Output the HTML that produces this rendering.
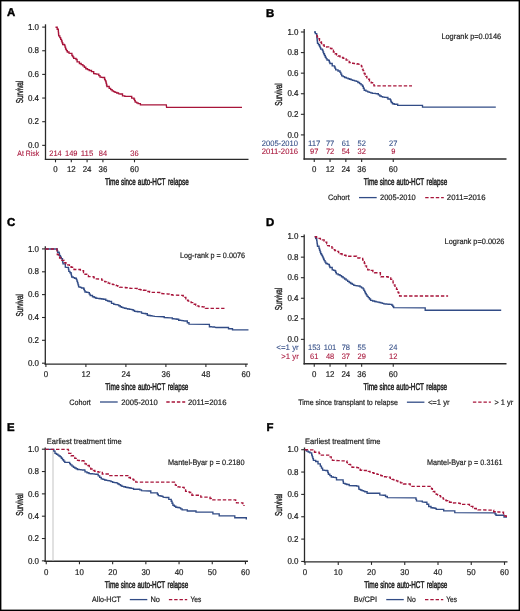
<!DOCTYPE html>
<html><head><meta charset="utf-8"><style>
html,body{margin:0;padding:0;background:#fff;}
svg{display:block;will-change:transform;}
text{font-family:"Liberation Sans",sans-serif;text-rendering:geometricPrecision;}
</style></head><body>
<svg width="520" height="611" viewBox="0 0 520 611">
<rect x="0" y="0" width="520" height="611" fill="#fff"/>
<text x="7.00" y="16.30" font-size="11.4" fill="#000" stroke="#000" stroke-width="0.45" font-weight="bold">A</text>
<line x1="45.50" y1="24.30" x2="45.50" y2="159.95" stroke="#2a2a2a" stroke-width="1.3"/>
<line x1="44.85" y1="159.30" x2="248.50" y2="159.30" stroke="#2a2a2a" stroke-width="1.3"/>
<line x1="42.20" y1="27.10" x2="45.50" y2="27.10" stroke="#2a2a2a" stroke-width="1.1"/>
<text x="39.00" y="29.77" font-size="8.6" fill="#222" stroke="#222" stroke-width="0.2" text-anchor="end" textLength="11.12" lengthAdjust="spacingAndGlyphs">1.0</text>
<line x1="42.20" y1="50.75" x2="45.50" y2="50.75" stroke="#2a2a2a" stroke-width="1.1"/>
<text x="39.00" y="53.42" font-size="8.6" fill="#222" stroke="#222" stroke-width="0.2" text-anchor="end" textLength="11.12" lengthAdjust="spacingAndGlyphs">0.8</text>
<line x1="42.20" y1="74.40" x2="45.50" y2="74.40" stroke="#2a2a2a" stroke-width="1.1"/>
<text x="39.00" y="77.07" font-size="8.6" fill="#222" stroke="#222" stroke-width="0.2" text-anchor="end" textLength="11.12" lengthAdjust="spacingAndGlyphs">0.6</text>
<line x1="42.20" y1="98.05" x2="45.50" y2="98.05" stroke="#2a2a2a" stroke-width="1.1"/>
<text x="39.00" y="100.72" font-size="8.6" fill="#222" stroke="#222" stroke-width="0.2" text-anchor="end" textLength="11.12" lengthAdjust="spacingAndGlyphs">0.4</text>
<line x1="42.20" y1="121.70" x2="45.50" y2="121.70" stroke="#2a2a2a" stroke-width="1.1"/>
<text x="39.00" y="124.37" font-size="8.6" fill="#222" stroke="#222" stroke-width="0.2" text-anchor="end" textLength="11.12" lengthAdjust="spacingAndGlyphs">0.2</text>
<line x1="42.20" y1="145.35" x2="45.50" y2="145.35" stroke="#2a2a2a" stroke-width="1.1"/>
<text x="39.00" y="148.02" font-size="8.6" fill="#222" stroke="#222" stroke-width="0.2" text-anchor="end" textLength="11.12" lengthAdjust="spacingAndGlyphs">0.0</text>
<line x1="55.50" y1="159.30" x2="55.50" y2="162.30" stroke="#2a2a2a" stroke-width="1.1"/>
<text x="55.50" y="171.88" font-size="8.4" fill="#222" stroke="#222" stroke-width="0.2" text-anchor="middle" textLength="4.39" lengthAdjust="spacingAndGlyphs">0</text>
<line x1="71.30" y1="159.30" x2="71.30" y2="162.30" stroke="#2a2a2a" stroke-width="1.1"/>
<text x="71.30" y="171.88" font-size="8.4" fill="#222" stroke="#222" stroke-width="0.2" text-anchor="middle" textLength="8.78" lengthAdjust="spacingAndGlyphs">12</text>
<line x1="87.10" y1="159.30" x2="87.10" y2="162.30" stroke="#2a2a2a" stroke-width="1.1"/>
<text x="87.10" y="171.88" font-size="8.4" fill="#222" stroke="#222" stroke-width="0.2" text-anchor="middle" textLength="8.78" lengthAdjust="spacingAndGlyphs">24</text>
<line x1="102.90" y1="159.30" x2="102.90" y2="162.30" stroke="#2a2a2a" stroke-width="1.1"/>
<text x="102.90" y="171.88" font-size="8.4" fill="#222" stroke="#222" stroke-width="0.2" text-anchor="middle" textLength="8.78" lengthAdjust="spacingAndGlyphs">36</text>
<line x1="134.50" y1="159.30" x2="134.50" y2="162.30" stroke="#2a2a2a" stroke-width="1.1"/>
<text x="134.50" y="171.88" font-size="8.4" fill="#222" stroke="#222" stroke-width="0.2" text-anchor="middle" textLength="8.78" lengthAdjust="spacingAndGlyphs">60</text>
<text x="0" y="0" font-size="10" fill="#222" stroke="#222" stroke-width="0.4" text-anchor="middle" textLength="22.4" lengthAdjust="spacingAndGlyphs" transform="translate(22.80,92.00) rotate(-90)">Survival</text>
<text x="17.30" y="156.34" font-size="7.9" fill="#a8143a" stroke="#a8143a" stroke-width="0.08" textLength="21.90" lengthAdjust="spacingAndGlyphs">At Risk</text>
<text x="55.50" y="156.30" font-size="7.9" fill="#a8143a" stroke="#a8143a" stroke-width="0.08" text-anchor="middle" textLength="12.51" lengthAdjust="spacingAndGlyphs">214</text>
<text x="71.30" y="156.30" font-size="7.9" fill="#a8143a" stroke="#a8143a" stroke-width="0.08" text-anchor="middle" textLength="12.51" lengthAdjust="spacingAndGlyphs">149</text>
<text x="87.10" y="156.30" font-size="7.9" fill="#a8143a" stroke="#a8143a" stroke-width="0.08" text-anchor="middle" textLength="12.51" lengthAdjust="spacingAndGlyphs">115</text>
<text x="102.90" y="156.30" font-size="7.9" fill="#a8143a" stroke="#a8143a" stroke-width="0.08" text-anchor="middle" textLength="8.34" lengthAdjust="spacingAndGlyphs">84</text>
<text x="134.50" y="156.30" font-size="7.9" fill="#a8143a" stroke="#a8143a" stroke-width="0.08" text-anchor="middle" textLength="8.34" lengthAdjust="spacingAndGlyphs">36</text>
<text x="104.90" y="185.30" font-size="9.8" fill="#222" stroke="#222" stroke-width="0.5" textLength="14.35" lengthAdjust="spacingAndGlyphs">Time</text>
<text x="121.07" y="185.30" font-size="9.8" fill="#222" stroke="#222" stroke-width="0.5" textLength="14.55" lengthAdjust="spacingAndGlyphs">since</text>
<text x="137.86" y="185.30" font-size="9.8" fill="#222" stroke="#222" stroke-width="0.5" textLength="27.59" lengthAdjust="spacingAndGlyphs">auto-HCT</text>
<text x="167.88" y="185.30" font-size="9.8" fill="#222" stroke="#222" stroke-width="0.5" textLength="20.82" lengthAdjust="spacingAndGlyphs">relapse</text>
<path d="M55.50,27.20 L57.20,27.20 L57.20,29.20 L58.30,29.20 L58.30,31.20 L58.43,31.20 L58.43,32.73 L58.57,32.73 L58.57,34.27 L58.70,34.27 L58.70,35.80 L59.80,35.80 L59.80,37.60 L60.65,37.60 L60.65,39.30 L61.50,39.30 L61.50,41.00 L62.10,41.00 L62.10,42.75 L62.70,42.75 L62.70,44.50 L64.40,44.50 L64.40,45.10 L65.00,45.10 L65.00,47.10 L65.60,47.10 L65.60,49.10 L66.45,49.10 L66.45,50.55 L67.30,50.55 L67.30,52.00 L69.00,52.00 L69.00,53.20 L70.80,53.40 L71.90,53.40 L71.90,55.50 L72.80,55.50 L72.80,56.90 L73.70,56.90 L73.70,58.30 L76.00,58.30 L76.00,59.50 L77.10,59.50 L77.10,61.80 L79.40,61.80 L79.40,63.50 L81.15,63.50 L81.15,64.65 L82.90,64.65 L82.90,65.80 L84.35,65.80 L84.35,67.25 L85.80,67.25 L85.80,68.70 L87.50,68.70 L87.50,69.60 L89.20,69.60 L89.20,70.50 L91.50,70.50 L91.50,71.60 L93.70,71.60 L93.70,73.60 L95.10,73.60 L95.10,73.85 L96.50,73.85 L96.50,74.10 L98.80,74.10 L98.80,75.60 L100.00,75.60 L100.00,77.10 L101.45,77.10 L101.45,77.30 L102.90,77.30 L102.90,77.50 L104.60,77.50 L104.60,79.40 L105.20,79.40 L105.20,80.65 L105.80,80.65 L105.80,81.90 L106.17,81.90 L106.17,83.43 L106.53,83.43 L106.53,84.97 L106.90,84.97 L106.90,86.50 L109.20,86.50 L109.20,88.30 L110.65,88.30 L110.65,89.60 L112.10,89.60 L112.10,90.90 L113.55,90.90 L113.55,91.60 L115.00,91.60 L115.00,92.30 L116.75,92.30 L116.75,93.00 L118.50,93.00 L118.50,93.70 L120.20,94.00 L122.50,94.00 L122.50,95.80 L124.80,95.80 L124.80,96.30 L130.00,96.30 L131.70,96.30 L131.70,98.10 L134.00,98.10 L134.00,99.20 L134.60,99.20 L134.60,100.65 L135.20,100.65 L135.20,102.10 L136.65,102.10 L136.65,102.85 L138.10,102.85 L138.10,103.60 L140.40,103.60 L140.40,104.90 L166.30,104.90 L166.60,107.40 L242.00,107.40" fill="none" stroke="#a8143a" stroke-width="1.35" stroke-linejoin="miter"/>
<text x="266.00" y="16.50" font-size="11.4" fill="#000" stroke="#000" stroke-width="0.45" font-weight="bold">B</text>
<line x1="304.20" y1="29.00" x2="304.20" y2="159.65" stroke="#2a2a2a" stroke-width="1.3"/>
<line x1="303.55" y1="159.00" x2="506.50" y2="159.00" stroke="#2a2a2a" stroke-width="1.3"/>
<line x1="300.90" y1="32.00" x2="304.20" y2="32.00" stroke="#2a2a2a" stroke-width="1.1"/>
<text x="298.50" y="34.67" font-size="8.6" fill="#222" stroke="#222" stroke-width="0.2" text-anchor="end" textLength="11.12" lengthAdjust="spacingAndGlyphs">1.0</text>
<line x1="300.90" y1="52.58" x2="304.20" y2="52.58" stroke="#2a2a2a" stroke-width="1.1"/>
<text x="298.50" y="55.25" font-size="8.6" fill="#222" stroke="#222" stroke-width="0.2" text-anchor="end" textLength="11.12" lengthAdjust="spacingAndGlyphs">0.8</text>
<line x1="300.90" y1="73.16" x2="304.20" y2="73.16" stroke="#2a2a2a" stroke-width="1.1"/>
<text x="298.50" y="75.83" font-size="8.6" fill="#222" stroke="#222" stroke-width="0.2" text-anchor="end" textLength="11.12" lengthAdjust="spacingAndGlyphs">0.6</text>
<line x1="300.90" y1="93.74" x2="304.20" y2="93.74" stroke="#2a2a2a" stroke-width="1.1"/>
<text x="298.50" y="96.41" font-size="8.6" fill="#222" stroke="#222" stroke-width="0.2" text-anchor="end" textLength="11.12" lengthAdjust="spacingAndGlyphs">0.4</text>
<line x1="300.90" y1="114.32" x2="304.20" y2="114.32" stroke="#2a2a2a" stroke-width="1.1"/>
<text x="298.50" y="116.99" font-size="8.6" fill="#222" stroke="#222" stroke-width="0.2" text-anchor="end" textLength="11.12" lengthAdjust="spacingAndGlyphs">0.2</text>
<line x1="300.90" y1="134.90" x2="304.20" y2="134.90" stroke="#2a2a2a" stroke-width="1.1"/>
<text x="298.50" y="137.57" font-size="8.6" fill="#222" stroke="#222" stroke-width="0.2" text-anchor="end" textLength="11.12" lengthAdjust="spacingAndGlyphs">0.0</text>
<line x1="314.25" y1="159.00" x2="314.25" y2="162.00" stroke="#2a2a2a" stroke-width="1.1"/>
<text x="314.25" y="171.88" font-size="8.4" fill="#222" stroke="#222" stroke-width="0.2" text-anchor="middle" textLength="4.39" lengthAdjust="spacingAndGlyphs">0</text>
<line x1="330.05" y1="159.00" x2="330.05" y2="162.00" stroke="#2a2a2a" stroke-width="1.1"/>
<text x="330.05" y="171.88" font-size="8.4" fill="#222" stroke="#222" stroke-width="0.2" text-anchor="middle" textLength="8.78" lengthAdjust="spacingAndGlyphs">12</text>
<line x1="345.85" y1="159.00" x2="345.85" y2="162.00" stroke="#2a2a2a" stroke-width="1.1"/>
<text x="345.85" y="171.88" font-size="8.4" fill="#222" stroke="#222" stroke-width="0.2" text-anchor="middle" textLength="8.78" lengthAdjust="spacingAndGlyphs">24</text>
<line x1="361.65" y1="159.00" x2="361.65" y2="162.00" stroke="#2a2a2a" stroke-width="1.1"/>
<text x="361.65" y="171.88" font-size="8.4" fill="#222" stroke="#222" stroke-width="0.2" text-anchor="middle" textLength="8.78" lengthAdjust="spacingAndGlyphs">36</text>
<line x1="393.25" y1="159.00" x2="393.25" y2="162.00" stroke="#2a2a2a" stroke-width="1.1"/>
<text x="393.25" y="171.88" font-size="8.4" fill="#222" stroke="#222" stroke-width="0.2" text-anchor="middle" textLength="8.78" lengthAdjust="spacingAndGlyphs">60</text>
<text x="0" y="0" font-size="10" fill="#222" stroke="#222" stroke-width="0.4" text-anchor="middle" textLength="22.4" lengthAdjust="spacingAndGlyphs" transform="translate(281.60,94.50) rotate(-90)">Survival</text>
<text x="441.40" y="38.54" font-size="7.9" fill="#222" stroke="#222" stroke-width="0.2" textLength="59.80" lengthAdjust="spacingAndGlyphs">Logrank p=0.0146</text>
<text x="261.75" y="145.84" font-size="7.9" fill="#324c86" stroke="#324c86" stroke-width="0.08" textLength="36.25" lengthAdjust="spacingAndGlyphs">2005-2010</text>
<text x="261.75" y="154.14" font-size="7.9" fill="#a8143a" stroke="#a8143a" stroke-width="0.08" textLength="36.25" lengthAdjust="spacingAndGlyphs">2011-2016</text>
<text x="314.25" y="145.80" font-size="7.9" fill="#324c86" stroke="#324c86" stroke-width="0.08" text-anchor="middle" textLength="12.51" lengthAdjust="spacingAndGlyphs">117</text>
<text x="330.05" y="145.80" font-size="7.9" fill="#324c86" stroke="#324c86" stroke-width="0.08" text-anchor="middle" textLength="8.34" lengthAdjust="spacingAndGlyphs">77</text>
<text x="345.85" y="145.80" font-size="7.9" fill="#324c86" stroke="#324c86" stroke-width="0.08" text-anchor="middle" textLength="8.34" lengthAdjust="spacingAndGlyphs">61</text>
<text x="361.65" y="145.80" font-size="7.9" fill="#324c86" stroke="#324c86" stroke-width="0.08" text-anchor="middle" textLength="8.34" lengthAdjust="spacingAndGlyphs">52</text>
<text x="393.25" y="145.80" font-size="7.9" fill="#324c86" stroke="#324c86" stroke-width="0.08" text-anchor="middle" textLength="8.34" lengthAdjust="spacingAndGlyphs">27</text>
<text x="314.25" y="154.10" font-size="7.9" fill="#a8143a" stroke="#a8143a" stroke-width="0.08" text-anchor="middle" textLength="8.34" lengthAdjust="spacingAndGlyphs">97</text>
<text x="330.05" y="154.10" font-size="7.9" fill="#a8143a" stroke="#a8143a" stroke-width="0.08" text-anchor="middle" textLength="8.34" lengthAdjust="spacingAndGlyphs">72</text>
<text x="345.85" y="154.10" font-size="7.9" fill="#a8143a" stroke="#a8143a" stroke-width="0.08" text-anchor="middle" textLength="8.34" lengthAdjust="spacingAndGlyphs">54</text>
<text x="361.65" y="154.10" font-size="7.9" fill="#a8143a" stroke="#a8143a" stroke-width="0.08" text-anchor="middle" textLength="8.34" lengthAdjust="spacingAndGlyphs">32</text>
<text x="393.25" y="154.10" font-size="7.9" fill="#a8143a" stroke="#a8143a" stroke-width="0.08" text-anchor="middle" textLength="4.17" lengthAdjust="spacingAndGlyphs">9</text>
<text x="363.70" y="185.30" font-size="9.8" fill="#222" stroke="#222" stroke-width="0.5" textLength="14.32" lengthAdjust="spacingAndGlyphs">Time</text>
<text x="379.84" y="185.30" font-size="9.8" fill="#222" stroke="#222" stroke-width="0.5" textLength="14.52" lengthAdjust="spacingAndGlyphs">since</text>
<text x="396.58" y="185.30" font-size="9.8" fill="#222" stroke="#222" stroke-width="0.5" textLength="27.53" lengthAdjust="spacingAndGlyphs">auto-HCT</text>
<text x="426.53" y="185.30" font-size="9.8" fill="#222" stroke="#222" stroke-width="0.5" textLength="20.77" lengthAdjust="spacingAndGlyphs">relapse</text>
<text x="328.00" y="200.34" font-size="7.9" fill="#222" stroke="#222" stroke-width="0.2" textLength="21.80" lengthAdjust="spacingAndGlyphs">Cohort</text>
<line x1="359.00" y1="197.60" x2="376.70" y2="197.60" stroke="#324c86" stroke-width="1.3"/>
<text x="380.00" y="200.34" font-size="7.9" fill="#222" stroke="#222" stroke-width="0.2" textLength="35.80" lengthAdjust="spacingAndGlyphs">2005-2010</text>
<line x1="425.20" y1="197.60" x2="443.80" y2="197.60" stroke="#a8143a" stroke-width="1.3" stroke-dasharray="3.4,1.9"/>
<text x="446.80" y="200.34" font-size="7.9" fill="#222" stroke="#222" stroke-width="0.2" textLength="38.70" lengthAdjust="spacingAndGlyphs">2011=2016</text>
<path d="M314.00,32.00 L315.35,32.00 L315.35,33.60 L316.70,33.60 L316.70,35.20 L317.00,38.70 L317.17,38.70 L317.17,40.23 L317.33,40.23 L317.33,41.77 L317.50,41.77 L317.50,43.30 L318.50,43.30 L318.50,44.75 L319.50,44.75 L319.50,46.20 L320.10,46.20 L320.10,47.65 L320.70,47.65 L320.70,49.10 L322.40,49.10 L322.40,50.20 L323.00,50.20 L323.00,51.95 L323.60,51.95 L323.60,53.70 L324.45,53.70 L324.45,55.45 L325.30,55.45 L325.30,57.20 L326.15,57.20 L326.15,58.60 L327.00,58.60 L327.00,60.00 L328.80,60.00 L328.80,60.60 L329.35,60.60 L329.35,62.05 L329.90,62.05 L329.90,63.50 L332.20,63.50 L332.20,65.80 L334.50,65.80 L334.50,67.00 L335.10,67.00 L335.10,68.40 L335.70,68.40 L335.70,69.80 L338.00,69.80 L338.00,71.00 L340.00,71.00 L340.00,72.30 L340.85,72.30 L340.85,74.05 L341.70,74.05 L341.70,75.80 L343.15,75.80 L343.15,76.65 L344.60,76.65 L344.60,77.50 L346.35,77.50 L346.35,78.10 L348.10,78.10 L348.10,78.70 L349.63,78.70 L349.63,79.27 L351.17,79.27 L351.17,79.83 L352.70,79.83 L352.70,80.40 L354.45,80.40 L354.45,80.85 L356.20,80.85 L356.20,81.30 L357.90,81.30 L357.90,82.45 L359.60,82.45 L359.60,83.60 L361.05,83.60 L361.05,84.90 L362.50,84.90 L362.50,86.20 L363.35,86.20 L363.35,88.20 L364.20,88.20 L364.20,90.20 L365.95,90.20 L365.95,91.05 L367.70,91.05 L367.70,91.90 L369.23,91.90 L369.23,92.37 L370.77,92.37 L370.77,92.83 L372.30,92.83 L372.30,93.30 L373.83,93.30 L373.83,93.43 L375.37,93.43 L375.37,93.57 L376.90,93.57 L376.90,93.70 L378.35,93.70 L378.35,94.85 L379.80,94.85 L379.80,96.00 L381.25,96.00 L381.25,96.55 L382.70,96.55 L382.70,97.10 L384.70,97.10 L384.70,97.30 L386.70,97.30 L386.70,97.50 L387.90,97.50 L387.90,99.00 L390.20,99.00 L390.20,99.60 L390.75,99.60 L390.75,101.05 L391.30,101.05 L391.30,102.50 L392.50,102.50 L392.50,103.70 L394.20,103.70 L394.20,104.20 L396.50,104.20 L397.70,104.20 L397.70,105.40 L421.90,105.40 L422.50,105.40 L422.50,107.10 L495.80,107.10" fill="none" stroke="#324c86" stroke-width="1.35" stroke-linejoin="miter"/>
<path d="M316.30,35.50 L317.20,35.50 L317.20,37.00 L318.35,37.00 L318.35,38.75 L319.50,38.75 L319.50,40.50 L320.47,40.50 L320.47,42.00 L321.43,42.00 L321.43,43.50 L322.40,43.50 L322.40,45.00 L324.20,45.00 L324.20,47.10 L328.20,46.90 L330.50,46.90 L330.50,48.50 L331.95,48.50 L331.95,50.25 L333.40,50.25 L333.40,52.00 L335.10,52.00 L335.10,53.70 L336.55,53.70 L336.55,54.85 L338.00,54.85 L338.00,56.00 L340.00,56.00 L340.00,56.70 L341.53,56.70 L341.53,57.47 L343.07,57.47 L343.07,58.23 L344.60,58.23 L344.60,59.00 L346.13,59.00 L346.13,60.17 L347.67,60.17 L347.67,61.33 L349.20,61.33 L349.20,62.50 L350.95,62.50 L350.95,62.90 L352.70,62.90 L352.70,63.30 L354.15,63.30 L354.15,63.52 L355.60,63.52 L355.60,63.75 L357.05,63.75 L357.05,63.98 L358.50,63.98 L358.50,64.20 L360.80,64.50 L361.35,64.50 L361.35,66.10 L361.90,66.10 L361.90,67.70 L362.47,67.70 L362.47,69.15 L363.05,69.15 L363.05,70.60 L363.62,70.60 L363.62,72.05 L364.20,72.05 L364.20,73.50 L365.07,73.50 L365.07,74.92 L365.95,74.92 L365.95,76.35 L366.82,76.35 L366.82,77.78 L367.70,77.78 L367.70,79.20 L369.45,79.20 L369.45,80.95 L371.20,80.95 L371.20,82.70 L373.50,82.70 L373.50,83.30 L373.75,83.30 L373.75,84.60 L374.00,84.60 L374.00,85.90 L412.00,85.90" fill="none" stroke="#a8143a" stroke-width="1.35" stroke-linejoin="miter" stroke-dasharray="3.4,1.9"/>
<text x="7.00" y="225.75" font-size="11.4" fill="#000" stroke="#000" stroke-width="0.45" font-weight="bold">C</text>
<line x1="45.30" y1="246.20" x2="45.30" y2="364.75" stroke="#2a2a2a" stroke-width="1.3"/>
<line x1="44.65" y1="364.10" x2="247.80" y2="364.10" stroke="#2a2a2a" stroke-width="1.3"/>
<line x1="42.00" y1="248.90" x2="45.30" y2="248.90" stroke="#2a2a2a" stroke-width="1.1"/>
<text x="39.00" y="251.57" font-size="8.6" fill="#222" stroke="#222" stroke-width="0.2" text-anchor="end" textLength="11.12" lengthAdjust="spacingAndGlyphs">1.0</text>
<line x1="42.00" y1="271.80" x2="45.30" y2="271.80" stroke="#2a2a2a" stroke-width="1.1"/>
<text x="39.00" y="274.47" font-size="8.6" fill="#222" stroke="#222" stroke-width="0.2" text-anchor="end" textLength="11.12" lengthAdjust="spacingAndGlyphs">0.8</text>
<line x1="42.00" y1="294.60" x2="45.30" y2="294.60" stroke="#2a2a2a" stroke-width="1.1"/>
<text x="39.00" y="297.27" font-size="8.6" fill="#222" stroke="#222" stroke-width="0.2" text-anchor="end" textLength="11.12" lengthAdjust="spacingAndGlyphs">0.6</text>
<line x1="42.00" y1="317.50" x2="45.30" y2="317.50" stroke="#2a2a2a" stroke-width="1.1"/>
<text x="39.00" y="320.17" font-size="8.6" fill="#222" stroke="#222" stroke-width="0.2" text-anchor="end" textLength="11.12" lengthAdjust="spacingAndGlyphs">0.4</text>
<line x1="42.00" y1="340.30" x2="45.30" y2="340.30" stroke="#2a2a2a" stroke-width="1.1"/>
<text x="39.00" y="342.97" font-size="8.6" fill="#222" stroke="#222" stroke-width="0.2" text-anchor="end" textLength="11.12" lengthAdjust="spacingAndGlyphs">0.2</text>
<line x1="42.00" y1="363.20" x2="45.30" y2="363.20" stroke="#2a2a2a" stroke-width="1.1"/>
<text x="39.00" y="365.87" font-size="8.6" fill="#222" stroke="#222" stroke-width="0.2" text-anchor="end" textLength="11.12" lengthAdjust="spacingAndGlyphs">0.0</text>
<line x1="45.90" y1="364.10" x2="45.90" y2="367.10" stroke="#2a2a2a" stroke-width="1.1"/>
<text x="45.90" y="376.83" font-size="8.4" fill="#222" stroke="#222" stroke-width="0.2" text-anchor="middle" textLength="4.39" lengthAdjust="spacingAndGlyphs">0</text>
<line x1="85.90" y1="364.10" x2="85.90" y2="367.10" stroke="#2a2a2a" stroke-width="1.1"/>
<text x="85.90" y="376.83" font-size="8.4" fill="#222" stroke="#222" stroke-width="0.2" text-anchor="middle" textLength="8.78" lengthAdjust="spacingAndGlyphs">12</text>
<line x1="125.90" y1="364.10" x2="125.90" y2="367.10" stroke="#2a2a2a" stroke-width="1.1"/>
<text x="125.90" y="376.83" font-size="8.4" fill="#222" stroke="#222" stroke-width="0.2" text-anchor="middle" textLength="8.78" lengthAdjust="spacingAndGlyphs">24</text>
<line x1="165.90" y1="364.10" x2="165.90" y2="367.10" stroke="#2a2a2a" stroke-width="1.1"/>
<text x="165.90" y="376.83" font-size="8.4" fill="#222" stroke="#222" stroke-width="0.2" text-anchor="middle" textLength="8.78" lengthAdjust="spacingAndGlyphs">36</text>
<line x1="205.90" y1="364.10" x2="205.90" y2="367.10" stroke="#2a2a2a" stroke-width="1.1"/>
<text x="205.90" y="376.83" font-size="8.4" fill="#222" stroke="#222" stroke-width="0.2" text-anchor="middle" textLength="8.78" lengthAdjust="spacingAndGlyphs">48</text>
<line x1="245.90" y1="364.10" x2="245.90" y2="367.10" stroke="#2a2a2a" stroke-width="1.1"/>
<text x="245.90" y="376.83" font-size="8.4" fill="#222" stroke="#222" stroke-width="0.2" text-anchor="middle" textLength="8.78" lengthAdjust="spacingAndGlyphs">60</text>
<text x="0" y="0" font-size="10" fill="#222" stroke="#222" stroke-width="0.4" text-anchor="middle" textLength="22.4" lengthAdjust="spacingAndGlyphs" transform="translate(23.10,305.30) rotate(-90)">Survival</text>
<text x="180.00" y="257.84" font-size="7.9" fill="#222" stroke="#222" stroke-width="0.2" textLength="65.00" lengthAdjust="spacingAndGlyphs">Log-rank p = 0.0076</text>
<text x="105.30" y="390.00" font-size="9.8" fill="#222" stroke="#222" stroke-width="0.5" textLength="14.22" lengthAdjust="spacingAndGlyphs">Time</text>
<text x="121.32" y="390.00" font-size="9.8" fill="#222" stroke="#222" stroke-width="0.5" textLength="14.42" lengthAdjust="spacingAndGlyphs">since</text>
<text x="137.94" y="390.00" font-size="9.8" fill="#222" stroke="#222" stroke-width="0.5" textLength="27.33" lengthAdjust="spacingAndGlyphs">auto-HCT</text>
<text x="167.68" y="390.00" font-size="9.8" fill="#222" stroke="#222" stroke-width="0.5" textLength="20.62" lengthAdjust="spacingAndGlyphs">relapse</text>
<text x="69.20" y="404.84" font-size="7.9" fill="#222" stroke="#222" stroke-width="0.2" textLength="21.60" lengthAdjust="spacingAndGlyphs">Cohort</text>
<line x1="100.00" y1="402.00" x2="117.70" y2="402.00" stroke="#324c86" stroke-width="1.3"/>
<text x="121.20" y="404.84" font-size="7.9" fill="#222" stroke="#222" stroke-width="0.2" textLength="36.50" lengthAdjust="spacingAndGlyphs">2005-2010</text>
<line x1="166.30" y1="402.00" x2="185.20" y2="402.00" stroke="#a8143a" stroke-width="1.3" stroke-dasharray="3.4,1.9"/>
<text x="187.90" y="404.84" font-size="7.9" fill="#222" stroke="#222" stroke-width="0.2" textLength="38.60" lengthAdjust="spacingAndGlyphs">2011=2016</text>
<path d="M45.40,249.00 L56.90,249.00 L57.25,249.00 L57.25,250.60 L57.60,250.60 L57.60,252.20 L59.00,252.20 L59.00,252.80 L59.30,252.80 L59.30,254.25 L59.60,254.25 L59.60,255.70 L60.45,255.70 L60.45,257.15 L61.30,257.15 L61.30,258.60 L62.50,258.60 L62.50,260.90 L62.75,260.90 L62.75,262.35 L63.00,262.35 L63.00,263.80 L65.30,263.80 L65.30,264.30 L65.30,267.20 L68.20,267.50 L68.50,267.50 L68.50,269.40 L68.80,269.40 L68.80,271.30 L69.95,271.30 L69.95,272.75 L71.10,272.75 L71.10,274.20 L71.40,274.20 L71.40,275.60 L71.70,275.60 L71.70,277.00 L73.15,277.00 L73.15,277.60 L74.60,277.60 L74.60,278.20 L76.30,278.20 L76.30,279.30 L76.90,279.30 L76.90,281.05 L77.50,281.05 L77.50,282.80 L78.05,282.80 L78.05,284.80 L78.60,284.80 L78.60,286.80 L80.05,286.80 L80.05,287.40 L81.50,287.40 L81.50,288.00 L83.80,288.00 L83.80,289.20 L84.40,289.20 L84.40,290.60 L85.00,290.60 L85.00,292.00 L86.70,292.00 L86.70,292.30 L88.40,292.30 L88.40,292.60 L89.30,292.60 L89.30,294.05 L90.20,294.05 L90.20,295.50 L92.50,295.50 L92.50,296.70 L94.20,296.70 L94.20,297.45 L95.90,297.45 L95.90,298.20 L97.27,298.20 L97.27,298.37 L98.63,298.37 L98.63,298.53 L100.00,298.53 L100.00,298.70 L101.75,298.70 L101.75,298.95 L103.50,298.95 L103.50,299.20 L105.80,299.20 L105.80,300.40 L107.50,300.40 L107.50,300.95 L109.20,300.95 L109.20,301.50 L111.50,301.50 L111.50,303.30 L113.80,303.30 L113.80,304.40 L115.55,304.40 L115.55,304.60 L117.30,304.60 L117.30,304.80 L118.75,304.80 L118.75,305.75 L120.20,305.75 L120.20,306.70 L121.65,306.70 L121.65,307.30 L123.10,307.30 L123.10,307.90 L124.63,307.90 L124.63,308.27 L126.17,308.27 L126.17,308.63 L127.70,308.63 L127.70,309.00 L129.70,309.00 L129.70,309.30 L131.70,309.30 L131.70,309.60 L133.15,309.60 L133.15,310.45 L134.60,310.45 L134.60,311.30 L136.13,311.30 L136.13,311.50 L137.67,311.50 L137.67,311.70 L139.20,311.70 L139.20,311.90 L141.50,311.90 L141.50,313.10 L142.87,313.10 L142.87,313.30 L144.23,313.30 L144.23,313.50 L145.60,313.50 L145.60,313.70 L147.30,313.70 L147.30,315.20 L148.83,315.20 L148.83,315.47 L150.37,315.47 L150.37,315.73 L151.90,315.73 L151.90,316.00 L155.00,316.30 L163.10,316.70 L164.20,316.70 L164.20,317.50 L170.60,317.80 L172.30,317.80 L172.30,318.70 L173.83,318.70 L173.83,318.87 L175.37,318.87 L175.37,319.03 L176.90,319.03 L176.90,319.20 L178.70,319.20 L178.70,320.20 L180.27,320.20 L180.27,320.40 L181.85,320.40 L181.85,320.60 L183.43,320.60 L183.43,320.80 L185.00,320.80 L185.00,321.00 L187.30,321.00 L187.30,322.70 L189.00,322.70 L189.00,324.10 L207.70,324.40 L209.40,324.40 L209.40,326.70 L211.13,326.70 L211.13,326.83 L212.87,326.83 L212.87,326.97 L214.60,326.97 L214.60,327.10 L215.80,327.50 L227.30,327.50 L228.50,327.50 L228.50,328.70 L231.30,328.70 L232.50,328.70 L232.50,329.80 L246.90,329.80 L247.80,329.80 L247.80,330.50" fill="none" stroke="#324c86" stroke-width="1.35" stroke-linejoin="miter"/>
<path d="M45.40,249.00 L56.90,249.00 L57.30,254.50 L58.45,254.50 L58.45,256.25 L59.60,256.25 L59.60,258.00 L61.90,258.00 L61.90,260.30 L64.20,260.30 L64.20,262.60 L65.95,262.60 L65.95,263.75 L67.70,263.75 L67.70,264.90 L69.40,264.90 L69.40,266.05 L71.10,266.05 L71.10,267.20 L72.55,267.20 L72.55,268.35 L74.00,268.35 L74.00,269.50 L78.60,269.50 L80.35,269.50 L80.35,270.10 L82.10,270.10 L82.10,270.70 L83.55,270.70 L83.55,272.45 L85.00,272.45 L85.00,274.20 L86.70,274.20 L86.70,275.35 L88.40,275.35 L88.40,276.50 L92.50,276.70 L93.90,276.70 L93.90,277.75 L95.30,277.75 L95.30,278.80 L100.00,279.00 L101.75,279.00 L101.75,280.15 L103.50,280.15 L103.50,281.30 L105.03,281.30 L105.03,281.90 L106.57,281.90 L106.57,282.50 L108.10,282.50 L108.10,283.10 L109.80,283.10 L109.80,283.65 L111.50,283.65 L111.50,284.20 L113.07,284.20 L113.07,284.67 L114.63,284.67 L114.63,285.13 L116.20,285.13 L116.20,285.60 L117.90,285.60 L117.90,286.35 L119.60,286.35 L119.60,287.10 L124.20,287.50 L125.65,287.50 L125.65,287.70 L127.10,287.70 L127.10,287.90 L128.55,287.90 L128.55,288.10 L130.00,288.10 L130.00,288.30 L135.80,288.30 L137.25,288.30 L137.25,288.85 L138.70,288.85 L138.70,289.40 L140.40,289.40 L140.40,289.70 L142.10,289.70 L142.10,290.00 L143.47,290.00 L143.47,290.20 L144.83,290.20 L144.83,290.40 L146.20,290.40 L146.20,290.60 L147.90,290.60 L147.90,291.45 L149.60,291.45 L149.60,292.30 L159.60,292.50 L161.90,292.50 L161.90,293.60 L166.50,293.80 L167.95,293.80 L167.95,294.10 L169.40,294.10 L169.40,294.40 L170.85,294.40 L170.85,294.70 L172.30,294.70 L172.30,295.00 L181.50,295.30 L183.25,295.30 L183.25,296.30 L185.00,296.30 L185.00,297.30 L185.85,297.30 L185.85,298.75 L186.70,298.75 L186.70,300.20 L188.15,300.20 L188.15,301.05 L189.60,301.05 L189.60,301.90 L191.13,301.90 L191.13,302.67 L192.67,302.67 L192.67,303.43 L194.20,303.43 L194.20,304.20 L195.73,304.20 L195.73,305.00 L197.27,305.00 L197.27,305.80 L198.80,305.80 L198.80,306.60 L200.60,306.60 L200.60,306.77 L202.40,306.77 L202.40,306.93 L204.20,306.93 L204.20,307.10 L205.40,307.10 L205.40,308.30 L221.50,308.30 L223.80,308.30 L223.80,310.60" fill="none" stroke="#a8143a" stroke-width="1.35" stroke-linejoin="miter" stroke-dasharray="3.4,1.9"/>
<text x="266.00" y="225.75" font-size="11.4" fill="#000" stroke="#000" stroke-width="0.45" font-weight="bold">D</text>
<line x1="304.20" y1="234.50" x2="304.20" y2="364.40" stroke="#2a2a2a" stroke-width="1.3"/>
<line x1="303.55" y1="363.75" x2="506.50" y2="363.75" stroke="#2a2a2a" stroke-width="1.3"/>
<line x1="300.90" y1="236.60" x2="304.20" y2="236.60" stroke="#2a2a2a" stroke-width="1.1"/>
<text x="298.50" y="239.27" font-size="8.6" fill="#222" stroke="#222" stroke-width="0.2" text-anchor="end" textLength="11.12" lengthAdjust="spacingAndGlyphs">1.0</text>
<line x1="300.90" y1="257.15" x2="304.20" y2="257.15" stroke="#2a2a2a" stroke-width="1.1"/>
<text x="298.50" y="259.82" font-size="8.6" fill="#222" stroke="#222" stroke-width="0.2" text-anchor="end" textLength="11.12" lengthAdjust="spacingAndGlyphs">0.8</text>
<line x1="300.90" y1="277.70" x2="304.20" y2="277.70" stroke="#2a2a2a" stroke-width="1.1"/>
<text x="298.50" y="280.37" font-size="8.6" fill="#222" stroke="#222" stroke-width="0.2" text-anchor="end" textLength="11.12" lengthAdjust="spacingAndGlyphs">0.6</text>
<line x1="300.90" y1="298.25" x2="304.20" y2="298.25" stroke="#2a2a2a" stroke-width="1.1"/>
<text x="298.50" y="300.92" font-size="8.6" fill="#222" stroke="#222" stroke-width="0.2" text-anchor="end" textLength="11.12" lengthAdjust="spacingAndGlyphs">0.4</text>
<line x1="300.90" y1="318.80" x2="304.20" y2="318.80" stroke="#2a2a2a" stroke-width="1.1"/>
<text x="298.50" y="321.47" font-size="8.6" fill="#222" stroke="#222" stroke-width="0.2" text-anchor="end" textLength="11.12" lengthAdjust="spacingAndGlyphs">0.2</text>
<line x1="300.90" y1="339.35" x2="304.20" y2="339.35" stroke="#2a2a2a" stroke-width="1.1"/>
<text x="298.50" y="342.02" font-size="8.6" fill="#222" stroke="#222" stroke-width="0.2" text-anchor="end" textLength="11.12" lengthAdjust="spacingAndGlyphs">0.0</text>
<line x1="314.25" y1="363.75" x2="314.25" y2="366.75" stroke="#2a2a2a" stroke-width="1.1"/>
<text x="314.25" y="376.78" font-size="8.4" fill="#222" stroke="#222" stroke-width="0.2" text-anchor="middle" textLength="4.39" lengthAdjust="spacingAndGlyphs">0</text>
<line x1="330.05" y1="363.75" x2="330.05" y2="366.75" stroke="#2a2a2a" stroke-width="1.1"/>
<text x="330.05" y="376.78" font-size="8.4" fill="#222" stroke="#222" stroke-width="0.2" text-anchor="middle" textLength="8.78" lengthAdjust="spacingAndGlyphs">12</text>
<line x1="345.85" y1="363.75" x2="345.85" y2="366.75" stroke="#2a2a2a" stroke-width="1.1"/>
<text x="345.85" y="376.78" font-size="8.4" fill="#222" stroke="#222" stroke-width="0.2" text-anchor="middle" textLength="8.78" lengthAdjust="spacingAndGlyphs">24</text>
<line x1="361.65" y1="363.75" x2="361.65" y2="366.75" stroke="#2a2a2a" stroke-width="1.1"/>
<text x="361.65" y="376.78" font-size="8.4" fill="#222" stroke="#222" stroke-width="0.2" text-anchor="middle" textLength="8.78" lengthAdjust="spacingAndGlyphs">36</text>
<line x1="393.25" y1="363.75" x2="393.25" y2="366.75" stroke="#2a2a2a" stroke-width="1.1"/>
<text x="393.25" y="376.78" font-size="8.4" fill="#222" stroke="#222" stroke-width="0.2" text-anchor="middle" textLength="8.78" lengthAdjust="spacingAndGlyphs">60</text>
<text x="0" y="0" font-size="10" fill="#222" stroke="#222" stroke-width="0.4" text-anchor="middle" textLength="22.4" lengthAdjust="spacingAndGlyphs" transform="translate(281.60,299.00) rotate(-90)">Survival</text>
<text x="444.60" y="243.74" font-size="7.9" fill="#222" stroke="#222" stroke-width="0.2" textLength="59.80" lengthAdjust="spacingAndGlyphs">Logrank p=0.0026</text>
<text x="276.25" y="350.34" font-size="7.9" fill="#324c86" stroke="#324c86" stroke-width="0.08" textLength="22.50" lengthAdjust="spacingAndGlyphs">&lt;=1 yr</text>
<text x="281.25" y="359.14" font-size="7.9" fill="#a8143a" stroke="#a8143a" stroke-width="0.08" textLength="17.50" lengthAdjust="spacingAndGlyphs">&gt;1 yr</text>
<text x="314.25" y="350.30" font-size="7.9" fill="#324c86" stroke="#324c86" stroke-width="0.08" text-anchor="middle" textLength="12.51" lengthAdjust="spacingAndGlyphs">153</text>
<text x="330.05" y="350.30" font-size="7.9" fill="#324c86" stroke="#324c86" stroke-width="0.08" text-anchor="middle" textLength="12.51" lengthAdjust="spacingAndGlyphs">101</text>
<text x="345.85" y="350.30" font-size="7.9" fill="#324c86" stroke="#324c86" stroke-width="0.08" text-anchor="middle" textLength="8.34" lengthAdjust="spacingAndGlyphs">78</text>
<text x="361.65" y="350.30" font-size="7.9" fill="#324c86" stroke="#324c86" stroke-width="0.08" text-anchor="middle" textLength="8.34" lengthAdjust="spacingAndGlyphs">55</text>
<text x="393.25" y="350.30" font-size="7.9" fill="#324c86" stroke="#324c86" stroke-width="0.08" text-anchor="middle" textLength="8.34" lengthAdjust="spacingAndGlyphs">24</text>
<text x="314.25" y="359.10" font-size="7.9" fill="#a8143a" stroke="#a8143a" stroke-width="0.08" text-anchor="middle" textLength="8.34" lengthAdjust="spacingAndGlyphs">61</text>
<text x="330.05" y="359.10" font-size="7.9" fill="#a8143a" stroke="#a8143a" stroke-width="0.08" text-anchor="middle" textLength="8.34" lengthAdjust="spacingAndGlyphs">48</text>
<text x="345.85" y="359.10" font-size="7.9" fill="#a8143a" stroke="#a8143a" stroke-width="0.08" text-anchor="middle" textLength="8.34" lengthAdjust="spacingAndGlyphs">37</text>
<text x="361.65" y="359.10" font-size="7.9" fill="#a8143a" stroke="#a8143a" stroke-width="0.08" text-anchor="middle" textLength="8.34" lengthAdjust="spacingAndGlyphs">29</text>
<text x="393.25" y="359.10" font-size="7.9" fill="#a8143a" stroke="#a8143a" stroke-width="0.08" text-anchor="middle" textLength="8.34" lengthAdjust="spacingAndGlyphs">12</text>
<text x="363.45" y="389.70" font-size="9.8" fill="#222" stroke="#222" stroke-width="0.5" textLength="14.32" lengthAdjust="spacingAndGlyphs">Time</text>
<text x="379.60" y="389.70" font-size="9.8" fill="#222" stroke="#222" stroke-width="0.5" textLength="14.53" lengthAdjust="spacingAndGlyphs">since</text>
<text x="396.35" y="389.70" font-size="9.8" fill="#222" stroke="#222" stroke-width="0.5" textLength="27.54" lengthAdjust="spacingAndGlyphs">auto-HCT</text>
<text x="426.32" y="389.70" font-size="9.8" fill="#222" stroke="#222" stroke-width="0.5" textLength="20.78" lengthAdjust="spacingAndGlyphs">relapse</text>
<text x="298.20" y="404.94" font-size="7.9" fill="#222" stroke="#222" stroke-width="0.2" textLength="99.70" lengthAdjust="spacingAndGlyphs">Time since transplant to relapse</text>
<line x1="406.90" y1="402.20" x2="424.40" y2="402.20" stroke="#324c86" stroke-width="1.3"/>
<text x="427.90" y="404.94" font-size="7.9" fill="#222" stroke="#222" stroke-width="0.2" textLength="21.60" lengthAdjust="spacingAndGlyphs">&lt;=1 yr</text>
<line x1="472.90" y1="402.20" x2="490.90" y2="402.20" stroke="#a8143a" stroke-width="1.3" stroke-dasharray="3.4,1.9"/>
<text x="494.40" y="404.94" font-size="7.9" fill="#222" stroke="#222" stroke-width="0.2" textLength="18.90" lengthAdjust="spacingAndGlyphs">&gt; 1 yr</text>
<path d="M314.70,236.70 L315.70,236.70 L315.70,238.55 L316.70,238.55 L316.70,240.40 L316.90,240.40 L316.90,241.85 L317.10,241.85 L317.10,243.30 L317.30,243.30 L317.30,244.75 L317.50,244.75 L317.50,246.20 L319.00,246.20 L319.00,248.50 L319.57,248.50 L319.57,250.23 L320.13,250.23 L320.13,251.97 L320.70,251.97 L320.70,253.70 L321.55,253.70 L321.55,255.10 L322.40,255.10 L322.40,256.50 L323.00,256.50 L323.00,257.87 L323.60,257.87 L323.60,259.23 L324.20,259.23 L324.20,260.60 L325.05,260.60 L325.05,262.05 L325.90,262.05 L325.90,263.50 L327.35,263.50 L327.35,264.05 L328.80,264.05 L328.80,264.60 L329.35,264.60 L329.35,266.05 L329.90,266.05 L329.90,267.50 L332.20,267.50 L332.20,269.80 L333.65,269.80 L333.65,270.40 L335.10,270.40 L335.10,271.00 L335.70,271.00 L335.70,272.40 L336.30,272.40 L336.30,273.80 L338.15,273.80 L338.15,274.70 L340.00,274.70 L340.00,275.60 L341.53,275.60 L341.53,276.73 L343.07,276.73 L343.07,277.87 L344.60,277.87 L344.60,279.00 L346.13,279.00 L346.13,280.17 L347.67,280.17 L347.67,281.33 L349.20,281.33 L349.20,282.50 L350.73,282.50 L350.73,283.47 L352.27,283.47 L352.27,284.43 L353.80,284.43 L353.80,285.40 L355.37,285.40 L355.37,285.60 L356.93,285.60 L356.93,285.80 L358.50,285.80 L358.50,286.00 L360.03,286.00 L360.03,286.93 L361.57,286.93 L361.57,287.87 L363.10,287.87 L363.10,288.80 L363.87,288.80 L363.87,290.37 L364.63,290.37 L364.63,291.93 L365.40,291.93 L365.40,293.50 L366.25,293.50 L366.25,294.90 L367.10,294.90 L367.10,296.30 L368.27,296.30 L368.27,297.67 L369.43,297.67 L369.43,299.03 L370.60,299.03 L370.60,300.40 L372.60,300.40 L372.60,300.95 L374.60,300.95 L374.60,301.50 L376.13,301.50 L376.13,301.83 L377.67,301.83 L377.67,302.17 L379.20,302.17 L379.20,302.50 L380.73,302.50 L380.73,302.93 L382.27,302.93 L382.27,303.37 L383.80,303.37 L383.80,303.80 L385.25,303.80 L385.25,303.95 L386.70,303.95 L386.70,304.10 L388.15,304.10 L388.15,304.25 L389.60,304.25 L389.60,304.40 L391.90,304.40 L391.90,305.20 L392.80,305.20 L392.80,306.45 L393.70,306.45 L393.70,307.70 L424.40,307.80 L425.20,307.80 L425.20,310.20 L501.20,310.20" fill="none" stroke="#324c86" stroke-width="1.35" stroke-linejoin="miter"/>
<path d="M314.70,236.70 L316.55,236.70 L316.55,237.50 L318.40,237.50 L318.40,238.30 L320.40,238.30 L320.40,239.05 L322.40,239.05 L322.40,239.80 L324.15,239.80 L324.15,240.95 L325.90,240.95 L325.90,242.10 L326.75,242.10 L326.75,243.85 L327.60,243.85 L327.60,245.60 L329.35,245.60 L329.35,246.15 L331.10,246.15 L331.10,246.70 L331.95,246.70 L331.95,248.15 L332.80,248.15 L332.80,249.60 L334.80,249.60 L334.80,250.45 L336.80,250.45 L336.80,251.30 L338.55,251.30 L338.55,252.50 L340.30,252.50 L340.30,253.70 L342.05,253.70 L342.05,254.45 L343.80,254.45 L343.80,255.20 L345.80,255.20 L345.80,255.75 L347.80,255.75 L347.80,256.30 L354.20,256.30 L356.50,256.30 L356.50,257.90 L358.23,257.90 L358.23,258.03 L359.97,258.03 L359.97,258.17 L361.70,258.17 L361.70,258.30 L362.70,258.30 L362.70,260.00 L363.70,260.00 L363.70,261.70 L364.27,261.70 L364.27,263.07 L364.83,263.07 L364.83,264.43 L365.40,264.43 L365.40,265.80 L366.55,265.80 L366.55,267.80 L367.70,267.80 L367.70,269.80 L369.45,269.80 L369.45,270.10 L371.20,270.10 L371.20,270.40 L372.90,270.40 L372.90,271.55 L374.60,271.55 L374.60,272.70 L379.80,272.70 L380.40,272.70 L380.40,274.70 L381.00,274.70 L381.00,276.70 L386.70,276.70 L388.15,276.70 L388.15,277.30 L389.60,277.30 L389.60,277.90 L390.75,277.90 L390.75,279.35 L391.90,279.35 L391.90,280.80 L393.05,280.80 L393.05,282.80 L394.20,282.80 L394.20,284.80 L394.97,284.80 L394.97,286.33 L395.73,286.33 L395.73,287.87 L396.50,287.87 L396.50,289.40 L397.30,289.40 L397.30,290.80 L398.07,290.80 L398.07,292.53 L398.83,292.53 L398.83,294.27 L399.60,294.27 L399.60,296.00 L448.10,296.00" fill="none" stroke="#a8143a" stroke-width="1.35" stroke-linejoin="miter" stroke-dasharray="3.4,1.9"/>
<text x="7.00" y="430.75" font-size="11.4" fill="#000" stroke="#000" stroke-width="0.45" font-weight="bold">E</text>
<text x="46.75" y="444.09" font-size="7.9" fill="#222" stroke="#222" stroke-width="0.2" textLength="75.00" lengthAdjust="spacingAndGlyphs">Earliest treatment time</text>
<line x1="45.20" y1="447.50" x2="45.20" y2="561.90" stroke="#2a2a2a" stroke-width="1.3"/>
<line x1="44.55" y1="561.25" x2="248.00" y2="561.25" stroke="#2a2a2a" stroke-width="1.3"/>
<line x1="41.90" y1="449.20" x2="45.20" y2="449.20" stroke="#2a2a2a" stroke-width="1.1"/>
<text x="39.00" y="451.87" font-size="8.6" fill="#222" stroke="#222" stroke-width="0.2" text-anchor="end" textLength="11.12" lengthAdjust="spacingAndGlyphs">1.0</text>
<line x1="41.90" y1="471.53" x2="45.20" y2="471.53" stroke="#2a2a2a" stroke-width="1.1"/>
<text x="39.00" y="474.20" font-size="8.6" fill="#222" stroke="#222" stroke-width="0.2" text-anchor="end" textLength="11.12" lengthAdjust="spacingAndGlyphs">0.8</text>
<line x1="41.90" y1="493.86" x2="45.20" y2="493.86" stroke="#2a2a2a" stroke-width="1.1"/>
<text x="39.00" y="496.53" font-size="8.6" fill="#222" stroke="#222" stroke-width="0.2" text-anchor="end" textLength="11.12" lengthAdjust="spacingAndGlyphs">0.6</text>
<line x1="41.90" y1="516.19" x2="45.20" y2="516.19" stroke="#2a2a2a" stroke-width="1.1"/>
<text x="39.00" y="518.86" font-size="8.6" fill="#222" stroke="#222" stroke-width="0.2" text-anchor="end" textLength="11.12" lengthAdjust="spacingAndGlyphs">0.4</text>
<line x1="41.90" y1="538.52" x2="45.20" y2="538.52" stroke="#2a2a2a" stroke-width="1.1"/>
<text x="39.00" y="541.19" font-size="8.6" fill="#222" stroke="#222" stroke-width="0.2" text-anchor="end" textLength="11.12" lengthAdjust="spacingAndGlyphs">0.2</text>
<line x1="41.90" y1="560.85" x2="45.20" y2="560.85" stroke="#2a2a2a" stroke-width="1.1"/>
<text x="39.00" y="563.52" font-size="8.6" fill="#222" stroke="#222" stroke-width="0.2" text-anchor="end" textLength="11.12" lengthAdjust="spacingAndGlyphs">0.0</text>
<line x1="46.25" y1="561.25" x2="46.25" y2="564.25" stroke="#2a2a2a" stroke-width="1.1"/>
<text x="46.25" y="575.08" font-size="8.4" fill="#222" stroke="#222" stroke-width="0.2" text-anchor="middle" textLength="4.39" lengthAdjust="spacingAndGlyphs">0</text>
<line x1="79.45" y1="561.25" x2="79.45" y2="564.25" stroke="#2a2a2a" stroke-width="1.1"/>
<text x="79.45" y="575.08" font-size="8.4" fill="#222" stroke="#222" stroke-width="0.2" text-anchor="middle" textLength="8.78" lengthAdjust="spacingAndGlyphs">10</text>
<line x1="112.65" y1="561.25" x2="112.65" y2="564.25" stroke="#2a2a2a" stroke-width="1.1"/>
<text x="112.65" y="575.08" font-size="8.4" fill="#222" stroke="#222" stroke-width="0.2" text-anchor="middle" textLength="8.78" lengthAdjust="spacingAndGlyphs">20</text>
<line x1="145.85" y1="561.25" x2="145.85" y2="564.25" stroke="#2a2a2a" stroke-width="1.1"/>
<text x="145.85" y="575.08" font-size="8.4" fill="#222" stroke="#222" stroke-width="0.2" text-anchor="middle" textLength="8.78" lengthAdjust="spacingAndGlyphs">30</text>
<line x1="179.05" y1="561.25" x2="179.05" y2="564.25" stroke="#2a2a2a" stroke-width="1.1"/>
<text x="179.05" y="575.08" font-size="8.4" fill="#222" stroke="#222" stroke-width="0.2" text-anchor="middle" textLength="8.78" lengthAdjust="spacingAndGlyphs">40</text>
<line x1="212.25" y1="561.25" x2="212.25" y2="564.25" stroke="#2a2a2a" stroke-width="1.1"/>
<text x="212.25" y="575.08" font-size="8.4" fill="#222" stroke="#222" stroke-width="0.2" text-anchor="middle" textLength="8.78" lengthAdjust="spacingAndGlyphs">50</text>
<line x1="245.45" y1="561.25" x2="245.45" y2="564.25" stroke="#2a2a2a" stroke-width="1.1"/>
<text x="245.45" y="575.08" font-size="8.4" fill="#222" stroke="#222" stroke-width="0.2" text-anchor="middle" textLength="8.78" lengthAdjust="spacingAndGlyphs">60</text>
<text x="0" y="0" font-size="10" fill="#222" stroke="#222" stroke-width="0.4" text-anchor="middle" textLength="22.4" lengthAdjust="spacingAndGlyphs" transform="translate(23.10,504.50) rotate(-90)">Survival</text>
<line x1="53.00" y1="449.50" x2="53.00" y2="560.50" stroke="#c8c8c8" stroke-width="1.1"/>
<text x="168.00" y="465.34" font-size="7.9" fill="#222" stroke="#222" stroke-width="0.2" textLength="76.50" lengthAdjust="spacingAndGlyphs">Mantel-Byar p = 0.2180</text>
<text x="104.70" y="588.30" font-size="9.8" fill="#222" stroke="#222" stroke-width="0.5" textLength="14.32" lengthAdjust="spacingAndGlyphs">Time</text>
<text x="120.84" y="588.30" font-size="9.8" fill="#222" stroke="#222" stroke-width="0.5" textLength="14.52" lengthAdjust="spacingAndGlyphs">since</text>
<text x="137.58" y="588.30" font-size="9.8" fill="#222" stroke="#222" stroke-width="0.5" textLength="27.53" lengthAdjust="spacingAndGlyphs">auto-HCT</text>
<text x="167.53" y="588.30" font-size="9.8" fill="#222" stroke="#222" stroke-width="0.5" textLength="20.77" lengthAdjust="spacingAndGlyphs">relapse</text>
<text x="92.10" y="602.44" font-size="7.9" fill="#222" stroke="#222" stroke-width="0.2" textLength="28.80" lengthAdjust="spacingAndGlyphs">Allo-HCT</text>
<line x1="129.80" y1="599.60" x2="147.30" y2="599.60" stroke="#324c86" stroke-width="1.3"/>
<text x="150.50" y="602.44" font-size="7.9" fill="#222" stroke="#222" stroke-width="0.2" textLength="9.50" lengthAdjust="spacingAndGlyphs">No</text>
<line x1="168.90" y1="599.60" x2="187.20" y2="599.60" stroke="#a8143a" stroke-width="1.3" stroke-dasharray="3.4,1.9"/>
<text x="190.40" y="602.44" font-size="7.9" fill="#222" stroke="#222" stroke-width="0.2" textLength="10.80" lengthAdjust="spacingAndGlyphs">Yes</text>
<path d="M45.40,449.30 L52.70,449.30 L53.80,449.30 L53.80,451.10 L55.00,451.10 L55.00,453.40 L56.40,453.40 L56.40,454.25 L57.80,454.25 L57.80,455.10 L59.00,455.10 L59.00,455.95 L60.20,455.95 L60.20,456.80 L61.35,456.80 L61.35,458.25 L62.50,458.25 L62.50,459.70 L63.65,459.70 L63.65,461.05 L64.80,461.05 L64.80,462.40 L68.80,462.40 L69.65,462.40 L69.65,463.65 L70.50,463.65 L70.50,464.90 L71.95,464.90 L71.95,466.05 L73.40,466.05 L73.40,467.20 L74.77,467.20 L74.77,467.97 L76.13,467.97 L76.13,468.73 L77.50,468.73 L77.50,469.50 L79.22,469.50 L79.22,469.65 L80.95,469.65 L80.95,469.80 L82.68,469.80 L82.68,469.95 L84.40,469.95 L84.40,470.10 L85.00,470.10 L85.00,471.80 L87.00,471.80 L87.00,472.70 L89.00,472.70 L89.00,473.60 L90.72,473.60 L90.72,473.75 L92.45,473.75 L92.45,473.90 L94.18,473.90 L94.18,474.05 L95.90,474.05 L95.90,474.20 L98.20,474.20 L98.20,475.90 L99.70,475.90 L99.70,477.35 L101.20,477.35 L101.20,478.80 L102.90,478.80 L102.90,479.40 L104.60,479.40 L104.60,480.00 L106.13,480.00 L106.13,480.30 L107.67,480.30 L107.67,480.60 L109.20,480.60 L109.20,480.90 L110.95,480.90 L110.95,481.60 L112.70,481.60 L112.70,482.30 L114.45,482.30 L114.45,482.60 L116.20,482.60 L116.20,482.90 L117.60,482.90 L117.60,483.75 L119.00,483.75 L119.00,484.60 L120.45,484.60 L120.45,485.45 L121.90,485.45 L121.90,486.30 L123.65,486.30 L123.65,486.75 L125.40,486.75 L125.40,487.20 L126.85,487.20 L126.85,487.48 L128.30,487.48 L128.30,487.75 L129.75,487.75 L129.75,488.02 L131.20,488.02 L131.20,488.30 L133.50,488.30 L133.50,489.20 L138.10,489.20 L139.80,489.20 L139.80,489.90 L141.50,489.90 L141.50,490.60 L149.60,491.00 L150.80,491.00 L150.80,492.90 L156.50,492.90 L157.40,492.90 L157.40,494.25 L158.30,494.25 L158.30,495.60 L160.10,495.60 L160.10,495.95 L161.90,495.95 L161.90,496.30 L163.10,496.30 L163.10,497.10 L166.50,497.50 L168.80,497.50 L168.80,499.40 L171.20,499.40 L171.20,501.20 L172.05,501.20 L172.05,503.20 L172.90,503.20 L172.90,505.20 L174.35,505.20 L174.35,506.20 L175.80,506.20 L175.80,507.20 L177.50,507.20 L177.50,507.50 L179.20,507.50 L179.20,507.80 L180.65,507.80 L180.65,508.80 L182.10,508.80 L182.10,509.80 L185.60,509.80 L187.30,509.80 L187.30,511.00 L194.80,511.00 L196.00,511.00 L196.00,512.10 L212.30,512.10 L212.90,512.10 L212.90,513.80 L218.70,513.80 L219.20,513.80 L219.20,515.90 L234.20,515.90 L234.80,515.90 L234.80,517.70 L245.20,517.70 L246.30,517.70 L246.30,519.60" fill="none" stroke="#324c86" stroke-width="1.35" stroke-linejoin="miter"/>
<path d="M45.40,449.30 L68.20,449.30 L68.40,449.30 L68.40,450.67 L68.60,450.67 L68.60,452.03 L68.80,452.03 L68.80,453.40 L71.10,453.40 L71.10,455.70 L73.40,455.70 L73.40,457.40 L74.77,457.40 L74.77,458.37 L76.13,458.37 L76.13,459.33 L77.50,459.33 L77.50,460.30 L78.92,460.30 L78.92,460.45 L80.35,460.45 L80.35,460.60 L81.78,460.60 L81.78,460.75 L83.20,460.75 L83.20,460.90 L84.10,460.90 L84.10,462.35 L85.00,462.35 L85.00,463.80 L86.40,463.80 L86.40,464.65 L87.80,464.65 L87.80,465.50 L89.25,465.50 L89.25,467.25 L90.70,467.25 L90.70,469.00 L92.07,469.00 L92.07,469.77 L93.43,469.77 L93.43,470.53 L94.80,470.53 L94.80,471.30 L96.53,471.30 L96.53,471.70 L98.27,471.70 L98.27,472.10 L100.00,472.10 L100.00,472.50 L102.30,472.50 L102.30,474.00 L106.90,474.00 L109.20,474.00 L109.20,475.60 L126.50,475.60 L128.80,475.60 L128.80,477.50 L130.37,477.50 L130.37,478.33 L131.93,478.33 L131.93,479.17 L133.50,479.17 L133.50,480.00 L135.80,480.00 L135.80,482.10 L173.50,482.10 L174.43,482.10 L174.43,483.63 L175.37,483.63 L175.37,485.17 L176.30,485.17 L176.30,486.70 L177.90,486.70 L177.90,486.85 L179.50,486.85 L179.50,487.00 L181.10,487.00 L181.10,487.15 L182.70,487.15 L182.70,487.30 L184.15,487.30 L184.15,489.30 L185.60,489.30 L185.60,491.30 L187.60,491.30 L187.60,491.90 L189.60,491.90 L189.60,492.50 L190.75,492.50 L190.75,493.85 L191.90,493.85 L191.90,495.20 L200.20,495.20 L200.80,495.20 L200.80,497.10 L208.80,497.10 L210.00,497.10 L210.00,498.45 L211.20,498.45 L211.20,499.80 L234.80,499.80 L235.65,499.80 L235.65,501.35 L236.50,501.35 L236.50,502.90 L241.70,502.90 L242.85,502.90 L242.85,504.45 L244.00,504.45 L244.00,506.00" fill="none" stroke="#a8143a" stroke-width="1.35" stroke-linejoin="miter" stroke-dasharray="3.4,1.9"/>
<text x="266.50" y="430.75" font-size="11.4" fill="#000" stroke="#000" stroke-width="0.45" font-weight="bold">F</text>
<text x="305.00" y="444.09" font-size="7.9" fill="#222" stroke="#222" stroke-width="0.2" textLength="75.50" lengthAdjust="spacingAndGlyphs">Earliest treatment time</text>
<line x1="304.50" y1="447.50" x2="304.50" y2="562.55" stroke="#2a2a2a" stroke-width="1.3"/>
<line x1="303.85" y1="561.90" x2="507.50" y2="561.90" stroke="#2a2a2a" stroke-width="1.3"/>
<line x1="301.20" y1="449.70" x2="304.50" y2="449.70" stroke="#2a2a2a" stroke-width="1.1"/>
<text x="298.50" y="452.37" font-size="8.6" fill="#222" stroke="#222" stroke-width="0.2" text-anchor="end" textLength="11.12" lengthAdjust="spacingAndGlyphs">1.0</text>
<line x1="301.20" y1="472.05" x2="304.50" y2="472.05" stroke="#2a2a2a" stroke-width="1.1"/>
<text x="298.50" y="474.72" font-size="8.6" fill="#222" stroke="#222" stroke-width="0.2" text-anchor="end" textLength="11.12" lengthAdjust="spacingAndGlyphs">0.8</text>
<line x1="301.20" y1="494.40" x2="304.50" y2="494.40" stroke="#2a2a2a" stroke-width="1.1"/>
<text x="298.50" y="497.07" font-size="8.6" fill="#222" stroke="#222" stroke-width="0.2" text-anchor="end" textLength="11.12" lengthAdjust="spacingAndGlyphs">0.6</text>
<line x1="301.20" y1="516.75" x2="304.50" y2="516.75" stroke="#2a2a2a" stroke-width="1.1"/>
<text x="298.50" y="519.42" font-size="8.6" fill="#222" stroke="#222" stroke-width="0.2" text-anchor="end" textLength="11.12" lengthAdjust="spacingAndGlyphs">0.4</text>
<line x1="301.20" y1="539.10" x2="304.50" y2="539.10" stroke="#2a2a2a" stroke-width="1.1"/>
<text x="298.50" y="541.77" font-size="8.6" fill="#222" stroke="#222" stroke-width="0.2" text-anchor="end" textLength="11.12" lengthAdjust="spacingAndGlyphs">0.2</text>
<line x1="301.20" y1="561.45" x2="304.50" y2="561.45" stroke="#2a2a2a" stroke-width="1.1"/>
<text x="298.50" y="564.12" font-size="8.6" fill="#222" stroke="#222" stroke-width="0.2" text-anchor="end" textLength="11.12" lengthAdjust="spacingAndGlyphs">0.0</text>
<line x1="305.00" y1="561.90" x2="305.00" y2="564.90" stroke="#2a2a2a" stroke-width="1.1"/>
<text x="305.00" y="574.58" font-size="8.4" fill="#222" stroke="#222" stroke-width="0.2" text-anchor="middle" textLength="4.39" lengthAdjust="spacingAndGlyphs">0</text>
<line x1="338.25" y1="561.90" x2="338.25" y2="564.90" stroke="#2a2a2a" stroke-width="1.1"/>
<text x="338.25" y="574.58" font-size="8.4" fill="#222" stroke="#222" stroke-width="0.2" text-anchor="middle" textLength="8.78" lengthAdjust="spacingAndGlyphs">10</text>
<line x1="371.50" y1="561.90" x2="371.50" y2="564.90" stroke="#2a2a2a" stroke-width="1.1"/>
<text x="371.50" y="574.58" font-size="8.4" fill="#222" stroke="#222" stroke-width="0.2" text-anchor="middle" textLength="8.78" lengthAdjust="spacingAndGlyphs">20</text>
<line x1="404.75" y1="561.90" x2="404.75" y2="564.90" stroke="#2a2a2a" stroke-width="1.1"/>
<text x="404.75" y="574.58" font-size="8.4" fill="#222" stroke="#222" stroke-width="0.2" text-anchor="middle" textLength="8.78" lengthAdjust="spacingAndGlyphs">30</text>
<line x1="438.00" y1="561.90" x2="438.00" y2="564.90" stroke="#2a2a2a" stroke-width="1.1"/>
<text x="438.00" y="574.58" font-size="8.4" fill="#222" stroke="#222" stroke-width="0.2" text-anchor="middle" textLength="8.78" lengthAdjust="spacingAndGlyphs">40</text>
<line x1="471.25" y1="561.90" x2="471.25" y2="564.90" stroke="#2a2a2a" stroke-width="1.1"/>
<text x="471.25" y="574.58" font-size="8.4" fill="#222" stroke="#222" stroke-width="0.2" text-anchor="middle" textLength="8.78" lengthAdjust="spacingAndGlyphs">50</text>
<line x1="504.50" y1="561.90" x2="504.50" y2="564.90" stroke="#2a2a2a" stroke-width="1.1"/>
<text x="504.50" y="574.58" font-size="8.4" fill="#222" stroke="#222" stroke-width="0.2" text-anchor="middle" textLength="8.78" lengthAdjust="spacingAndGlyphs">60</text>
<text x="0" y="0" font-size="10" fill="#222" stroke="#222" stroke-width="0.4" text-anchor="middle" textLength="22.4" lengthAdjust="spacingAndGlyphs" transform="translate(281.60,504.70) rotate(-90)">Survival</text>
<text x="427.00" y="465.34" font-size="7.9" fill="#222" stroke="#222" stroke-width="0.2" textLength="75.50" lengthAdjust="spacingAndGlyphs">Mantel-Byar p = 0.3161</text>
<text x="364.20" y="587.80" font-size="9.8" fill="#222" stroke="#222" stroke-width="0.5" textLength="14.23" lengthAdjust="spacingAndGlyphs">Time</text>
<text x="380.24" y="587.80" font-size="9.8" fill="#222" stroke="#222" stroke-width="0.5" textLength="14.43" lengthAdjust="spacingAndGlyphs">since</text>
<text x="396.88" y="587.80" font-size="9.8" fill="#222" stroke="#222" stroke-width="0.5" textLength="27.36" lengthAdjust="spacingAndGlyphs">auto-HCT</text>
<text x="426.65" y="587.80" font-size="9.8" fill="#222" stroke="#222" stroke-width="0.5" textLength="20.65" lengthAdjust="spacingAndGlyphs">relapse</text>
<text x="353.75" y="602.44" font-size="7.9" fill="#222" stroke="#222" stroke-width="0.2" textLength="23.25" lengthAdjust="spacingAndGlyphs">Bv/CPI</text>
<line x1="386.25" y1="599.60" x2="403.75" y2="599.60" stroke="#324c86" stroke-width="1.3"/>
<text x="407.00" y="602.44" font-size="7.9" fill="#222" stroke="#222" stroke-width="0.2" textLength="8.75" lengthAdjust="spacingAndGlyphs">No</text>
<line x1="425.00" y1="599.60" x2="443.25" y2="599.60" stroke="#a8143a" stroke-width="1.3" stroke-dasharray="3.4,1.9"/>
<text x="446.25" y="602.44" font-size="7.9" fill="#222" stroke="#222" stroke-width="0.2" textLength="10.75" lengthAdjust="spacingAndGlyphs">Yes</text>
<path d="M304.70,449.70 L306.50,449.70 L306.50,451.10 L308.20,451.10 L308.20,451.95 L309.90,451.95 L309.90,452.80 L311.70,452.80 L311.70,455.10 L312.27,455.10 L312.27,456.83 L312.83,456.83 L312.83,458.57 L313.40,458.57 L313.40,460.30 L315.70,460.30 L315.70,461.50 L318.00,461.50 L318.00,463.80 L320.30,463.80 L320.30,466.10 L321.45,466.10 L321.45,468.10 L322.60,468.10 L322.60,470.10 L324.13,470.10 L324.13,470.30 L325.67,470.30 L325.67,470.50 L327.20,470.50 L327.20,470.70 L327.80,470.70 L327.80,472.45 L328.40,472.45 L328.40,474.20 L329.85,474.20 L329.85,475.60 L331.30,475.60 L331.30,477.00 L333.30,477.00 L333.30,477.30 L335.30,477.30 L335.30,477.60 L336.50,477.60 L336.50,479.90 L342.80,479.90 L343.10,479.90 L343.10,481.65 L343.40,481.65 L343.40,483.40 L345.10,483.40 L345.10,483.95 L346.80,483.95 L346.80,484.50 L349.20,484.50 L349.20,485.50 L354.90,485.70 L356.70,485.70 L356.70,486.10 L358.50,486.10 L358.50,486.50 L358.75,486.50 L358.75,487.95 L359.00,487.95 L359.00,489.40 L360.45,489.40 L360.45,490.00 L361.90,490.00 L361.90,490.60 L363.35,490.60 L363.35,491.15 L364.80,491.15 L364.80,491.70 L367.10,491.70 L367.10,493.20 L377.50,493.20 L379.80,493.20 L379.80,494.80 L383.80,495.20 L385.55,495.20 L385.55,496.45 L387.30,496.45 L387.30,497.70 L415.40,497.90 L415.95,497.90 L415.95,499.35 L416.50,499.35 L416.50,500.80 L421.20,501.10 L422.30,501.10 L422.30,501.90 L425.20,502.20 L426.90,502.20 L426.90,504.20 L428.70,504.20 L428.70,506.50 L431.00,506.50 L431.00,507.70 L433.00,507.70 L433.00,508.00 L435.00,508.00 L435.00,508.30 L436.20,508.30 L436.20,509.40 L442.50,509.40 L443.70,509.40 L443.70,510.90 L454.00,510.90 L454.80,510.90 L454.80,512.60 L494.20,512.80 L495.10,512.80 L495.10,514.00 L496.00,514.00 L496.00,515.20 L502.90,515.20 L504.00,515.20 L504.00,517.10 L506.30,517.10 L506.30,517.70" fill="none" stroke="#324c86" stroke-width="1.35" stroke-linejoin="miter"/>
<path d="M304.70,449.70 L308.80,449.70 L311.10,449.90 L312.80,449.90 L312.80,451.05 L314.50,451.05 L314.50,452.20 L318.60,452.20 L319.15,452.20 L319.15,453.65 L319.70,453.65 L319.70,455.10 L327.20,455.10 L328.65,455.10 L328.65,455.95 L330.10,455.95 L330.10,456.80 L331.25,456.80 L331.25,458.55 L332.40,458.55 L332.40,460.30 L333.89,460.30 L333.89,460.39 L335.37,460.39 L335.37,460.47 L336.86,460.47 L336.86,460.56 L338.34,460.56 L338.34,460.64 L339.83,460.64 L339.83,460.73 L341.31,460.73 L341.31,460.81 L342.80,460.81 L342.80,460.90 L346.30,460.90 L346.85,460.90 L346.85,462.35 L347.40,462.35 L347.40,463.80 L348.85,463.80 L348.85,464.35 L350.30,464.35 L350.30,464.90 L352.00,464.90 L352.00,467.20 L355.00,467.20 L356.75,467.20 L356.75,467.65 L358.50,467.65 L358.50,468.10 L360.20,468.10 L360.20,470.20 L361.77,470.20 L361.77,470.30 L363.35,470.30 L363.35,470.40 L364.93,470.40 L364.93,470.50 L366.50,470.50 L366.50,470.60 L368.25,470.60 L368.25,471.35 L370.00,471.35 L370.00,472.10 L371.73,472.10 L371.73,472.67 L373.47,472.67 L373.47,473.23 L375.20,473.23 L375.20,473.80 L377.20,473.80 L377.20,474.40 L379.20,474.40 L379.20,475.00 L380.73,475.00 L380.73,475.57 L382.27,475.57 L382.27,476.13 L383.80,476.13 L383.80,476.70 L385.37,476.70 L385.37,476.83 L386.93,476.83 L386.93,476.97 L388.50,476.97 L388.50,477.10 L390.20,477.10 L390.20,478.25 L391.90,478.25 L391.90,479.40 L393.43,479.40 L393.43,479.87 L394.97,479.87 L394.97,480.33 L396.50,480.33 L396.50,480.80 L397.87,480.80 L397.87,481.47 L399.23,481.47 L399.23,482.13 L400.60,482.13 L400.60,482.80 L402.05,482.80 L402.05,483.40 L403.50,483.40 L403.50,484.00 L408.50,484.00 L410.20,484.00 L410.20,486.30 L429.20,486.30 L431.50,486.30 L431.50,488.70 L432.40,488.70 L432.40,490.10 L433.30,490.10 L433.30,491.50 L434.75,491.50 L434.75,492.95 L436.20,492.95 L436.20,494.40 L437.60,494.40 L437.60,495.00 L439.00,495.00 L439.00,495.60 L440.45,495.60 L440.45,496.75 L441.90,496.75 L441.90,497.90 L443.35,497.90 L443.35,499.05 L444.80,499.05 L444.80,500.20 L446.25,500.20 L446.25,500.75 L447.70,500.75 L447.70,501.30 L449.45,501.30 L449.45,502.20 L451.20,502.20 L451.20,503.10 L457.30,502.90 L458.83,502.90 L458.83,503.40 L460.37,503.40 L460.37,503.90 L461.90,503.90 L461.90,504.40 L467.70,504.40 L469.45,504.40 L469.45,505.40 L471.20,505.40 L471.20,506.40 L472.90,506.40 L472.90,507.45 L474.60,507.45 L474.60,508.50 L476.35,508.50 L476.35,509.15 L478.10,509.15 L478.10,509.80 L491.90,510.20 L493.70,510.20 L493.70,511.70 L495.20,511.70 L495.20,511.80 L496.70,511.80 L496.70,511.90 L498.20,511.90 L498.20,512.00 L499.70,512.00 L499.70,512.10 L501.20,512.10 L501.20,512.20 L503.50,512.20 L503.50,514.50 L504.90,514.50 L504.90,516.00 L506.30,516.00 L506.30,517.50" fill="none" stroke="#a8143a" stroke-width="1.35" stroke-linejoin="miter" stroke-dasharray="3.4,1.9"/>
<rect x="0" y="0" width="520" height="1.4" fill="#000"/>
<rect x="0" y="0" width="1.4" height="611" fill="#000"/>
<rect x="518.6" y="0" width="1.4" height="611" fill="#000"/>
<rect x="0" y="609.6" width="520" height="1.4" fill="#000"/>
</svg>
</body></html>
